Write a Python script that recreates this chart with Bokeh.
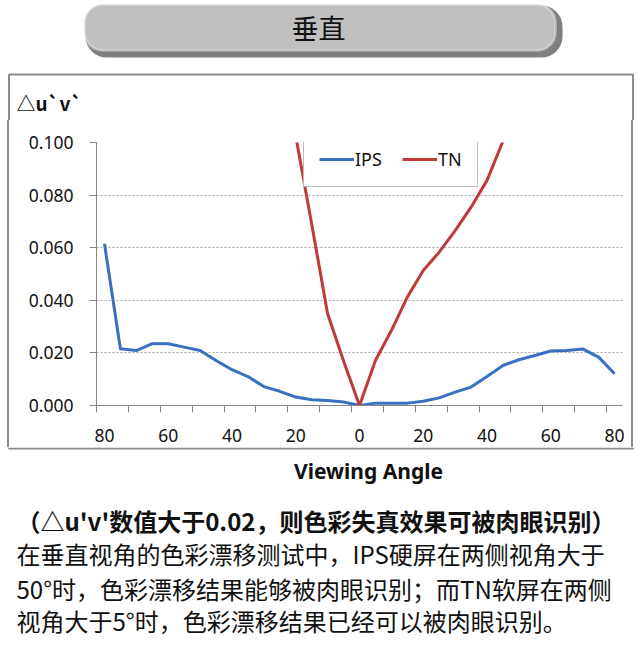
from bokeh.plotting import figure
from bokeh.layouts import column, row
from bokeh.models import (Range1d, FixedTicker, CustomJSTickFormatter, NumeralTickFormatter,
                          Label, BoxAnnotation, Div)
from bokeh.embed import file_html
from bokeh.resources import INLINE

# values (colour shift delta u'v' against viewing angle)
angles = [-80, -75, -70, -65, -60, -55, -50, -45, -40, -35, -30, -25, -20, -15, -10, -5,
          0, 5, 10, 15, 20, 25, 30, 35, 40, 45, 50, 55, 60, 65, 70, 75, 80]
ips = [0.0615, 0.0216, 0.0209, 0.0235, 0.0235, 0.0222, 0.0209, 0.0171, 0.0136, 0.0110,
       0.0072, 0.0054, 0.0032, 0.0022, 0.0019, 0.0013, 0.0000, 0.0009, 0.0009, 0.0009,
       0.0016, 0.0029, 0.0051, 0.0070, 0.0110, 0.0152, 0.0174, 0.0190, 0.0207, 0.0209,
       0.0215, 0.0184, 0.0121]

tn_angles = [-20, -15, -10, -5, 0, 5, 10, 15, 20, 25, 30, 35, 40, 45, 50]
tn = [0.1025, 0.0690, 0.0349, 0.0169, 0.0000, 0.0171, 0.0285, 0.0412, 0.0513, 0.0583,
      0.0665, 0.0754, 0.0856, 0.1005, 0.1150]

y_ticks = [0.0, 0.02, 0.04, 0.06, 0.08, 0.10]
x_labels = [-80, -60, -40, -20, 0, 20, 40, 60, 80]
x_marks = [-82.5, -72.5, -62.5, -52.5, -42.5, -32.5, -22.5, -12.5, -2.5,
           7.5, 17.5, 27.5, 37.5, 47.5, 57.5, 67.5, 77.5]

title_text = "垂直"
y_title = "△u`v`"
x_title = "Viewing Angle"
notes = ["（△u'v'数值大于0.02，则色彩失真效果可被肉眼识别）",
         "在垂直视角的色彩漂移测试中，IPS硬屏在两侧视角大于",
         "50°时，色彩漂移结果能够被肉眼识别；而TN软屏在两侧",
         "视角大于5°时，色彩漂移结果已经可以被肉眼识别。"]

BOX = "#8C8C8C"
TXT = "#111111"


def panel(w, h):
    # plain figure whose frame is the whole canvas, y measured downwards in px
    f = figure(width=w, height=h, output_backend="svg", toolbar_location=None,
               x_range=Range1d(0, w), y_range=Range1d(h, 0),
               x_axis_type=None, y_axis_type=None, min_border=0)
    f.outline_line_color = None
    f.background_fill_color = "white"
    f.border_fill_color = "white"
    return f


def edge(w, h, x0):
    # thin strip holding one vertical edge of the chart box
    grad = "linear-gradient(to right, white %gpx, %s %gpx, %s %gpx, white %gpx)" % (
        x0, BOX, x0, BOX, x0 + 2, x0 + 2)
    return Div(text="", width=w, height=h, margin=0, styles={"background": grad})


# --- title pill ---
top = panel(640, 66)
top.add_layout(BoxAnnotation(left=85, right=562, top=5, bottom=57, fill_color="#7F7F7F",
                             fill_alpha=1, line_color=None, border_radius=21))
top.add_layout(BoxAnnotation(left=84, right=555, top=4, bottom=50, fill_color="#C0C0C0",
                             fill_alpha=1, line_color="white", line_width=3,
                             border_radius=18))
top.add_layout(Label(x=318, y=27, text=title_text, text_align="center",
                     text_baseline="middle", text_font="Noto Sans CJK SC",
                     text_font_size="27px", text_color=TXT))

# --- upper part of the chart box with the y title ---
head = panel(640, 54)
head.line([8.5, 8.5, 632.5, 632.5], [54, 8, 8, 54], line_color=BOX, line_width=2)
head.add_layout(Label(x=16, y=36, text=y_title, text_align="left", text_baseline="middle",
                      text_font="Noto Sans CJK SC", text_font_style="bold",
                      text_font_size="19px", text_color=TXT))

# --- the chart ---
p = figure(width=612, height=327, output_backend="svg", toolbar_location=None,
           x_range=Range1d(-82.5, 82.5), y_range=Range1d(0, 0.1),
           min_border_left=82, min_border_right=4, min_border_top=22,
           min_border_bottom=42)
p.outline_line_color = None
p.background_fill_color = "white"
p.border_fill_color = "white"

p.line(angles, ips, color="#3A70C0", line_width=3, line_join="round", legend_label="IPS")
p.line(tn_angles, tn, color="#BE3B36", line_width=3, line_join="round", legend_label="TN")

ya = p.yaxis[0]
ya.ticker = FixedTicker(ticks=y_ticks)
ya.formatter = NumeralTickFormatter(format="0.000")
ya.axis_line_color = "#868686"
ya.major_tick_line_color = "#868686"
ya.major_tick_out = 7
ya.major_tick_in = 0
ya.minor_tick_line_color = None
ya.major_label_standoff = 16
ya.major_label_text_font = "Noto Sans"
ya.major_label_text_font_size = "17.5px"
ya.major_label_text_color = TXT

xa = p.xaxis[0]
xa.ticker = FixedTicker(ticks=x_labels, minor_ticks=x_marks)
xa.formatter = CustomJSTickFormatter(code="return Math.abs(tick).toFixed(0)")
xa.axis_line_color = "#868686"
xa.major_tick_line_color = None
xa.major_tick_out = 0
xa.major_tick_in = 0
xa.minor_tick_line_color = "#868686"
xa.minor_tick_out = 7
xa.minor_tick_in = 0
xa.major_label_standoff = 16
xa.major_label_text_font = "Noto Sans"
xa.major_label_text_font_size = "17.5px"
xa.major_label_text_color = TXT

p.xgrid.visible = False
p.ygrid.grid_line_color = "#A6A6A6"
p.ygrid.grid_line_dash = "2 2"

leg = p.legend[0]
leg.location = (207, 218)
leg.orientation = "horizontal"
leg.border_line_color = "#BDBDBD"
leg.border_line_alpha = 1
leg.border_line_width = 1.5
leg.background_fill_color = "white"
leg.background_fill_alpha = 1
leg.margin = 0
leg.padding = 15
leg.spacing = 20
leg.glyph_width = 35
leg.glyph_height = 14
leg.label_height = 14
leg.label_standoff = 1
leg.label_text_font = "Noto Sans"
leg.label_text_font_size = "18px"
leg.label_text_color = TXT

# --- bottom of the box, x title and notes ---
foot = panel(640, 203)
foot.line([8.5, 8.5, 632.5, 632.5], [0, 1, 1, 0], line_color=BOX, line_width=2)
foot.add_layout(Label(x=368, y=23, text=x_title, text_align="center",
                      text_baseline="middle", text_font="Noto Sans",
                      text_font_style="bold", text_font_size="21px", text_color=TXT))
note_y = [73, 106, 141, 173]
for i, (txt, yy) in enumerate(zip(notes, note_y)):
    foot.add_layout(Label(x=16, y=yy, text=txt, text_align="left", text_baseline="middle",
                          text_font="Noto Sans CJK SC",
                          text_font_style="bold" if i == 0 else "normal",
                          text_font_size="24px", text_color=TXT))

page = column(top, head, row(edge(14, 327, 7.5), p, edge(14, 327, 5.5)), foot)
open("out.html", "w").write(file_html(page, INLINE, "垂直"))
